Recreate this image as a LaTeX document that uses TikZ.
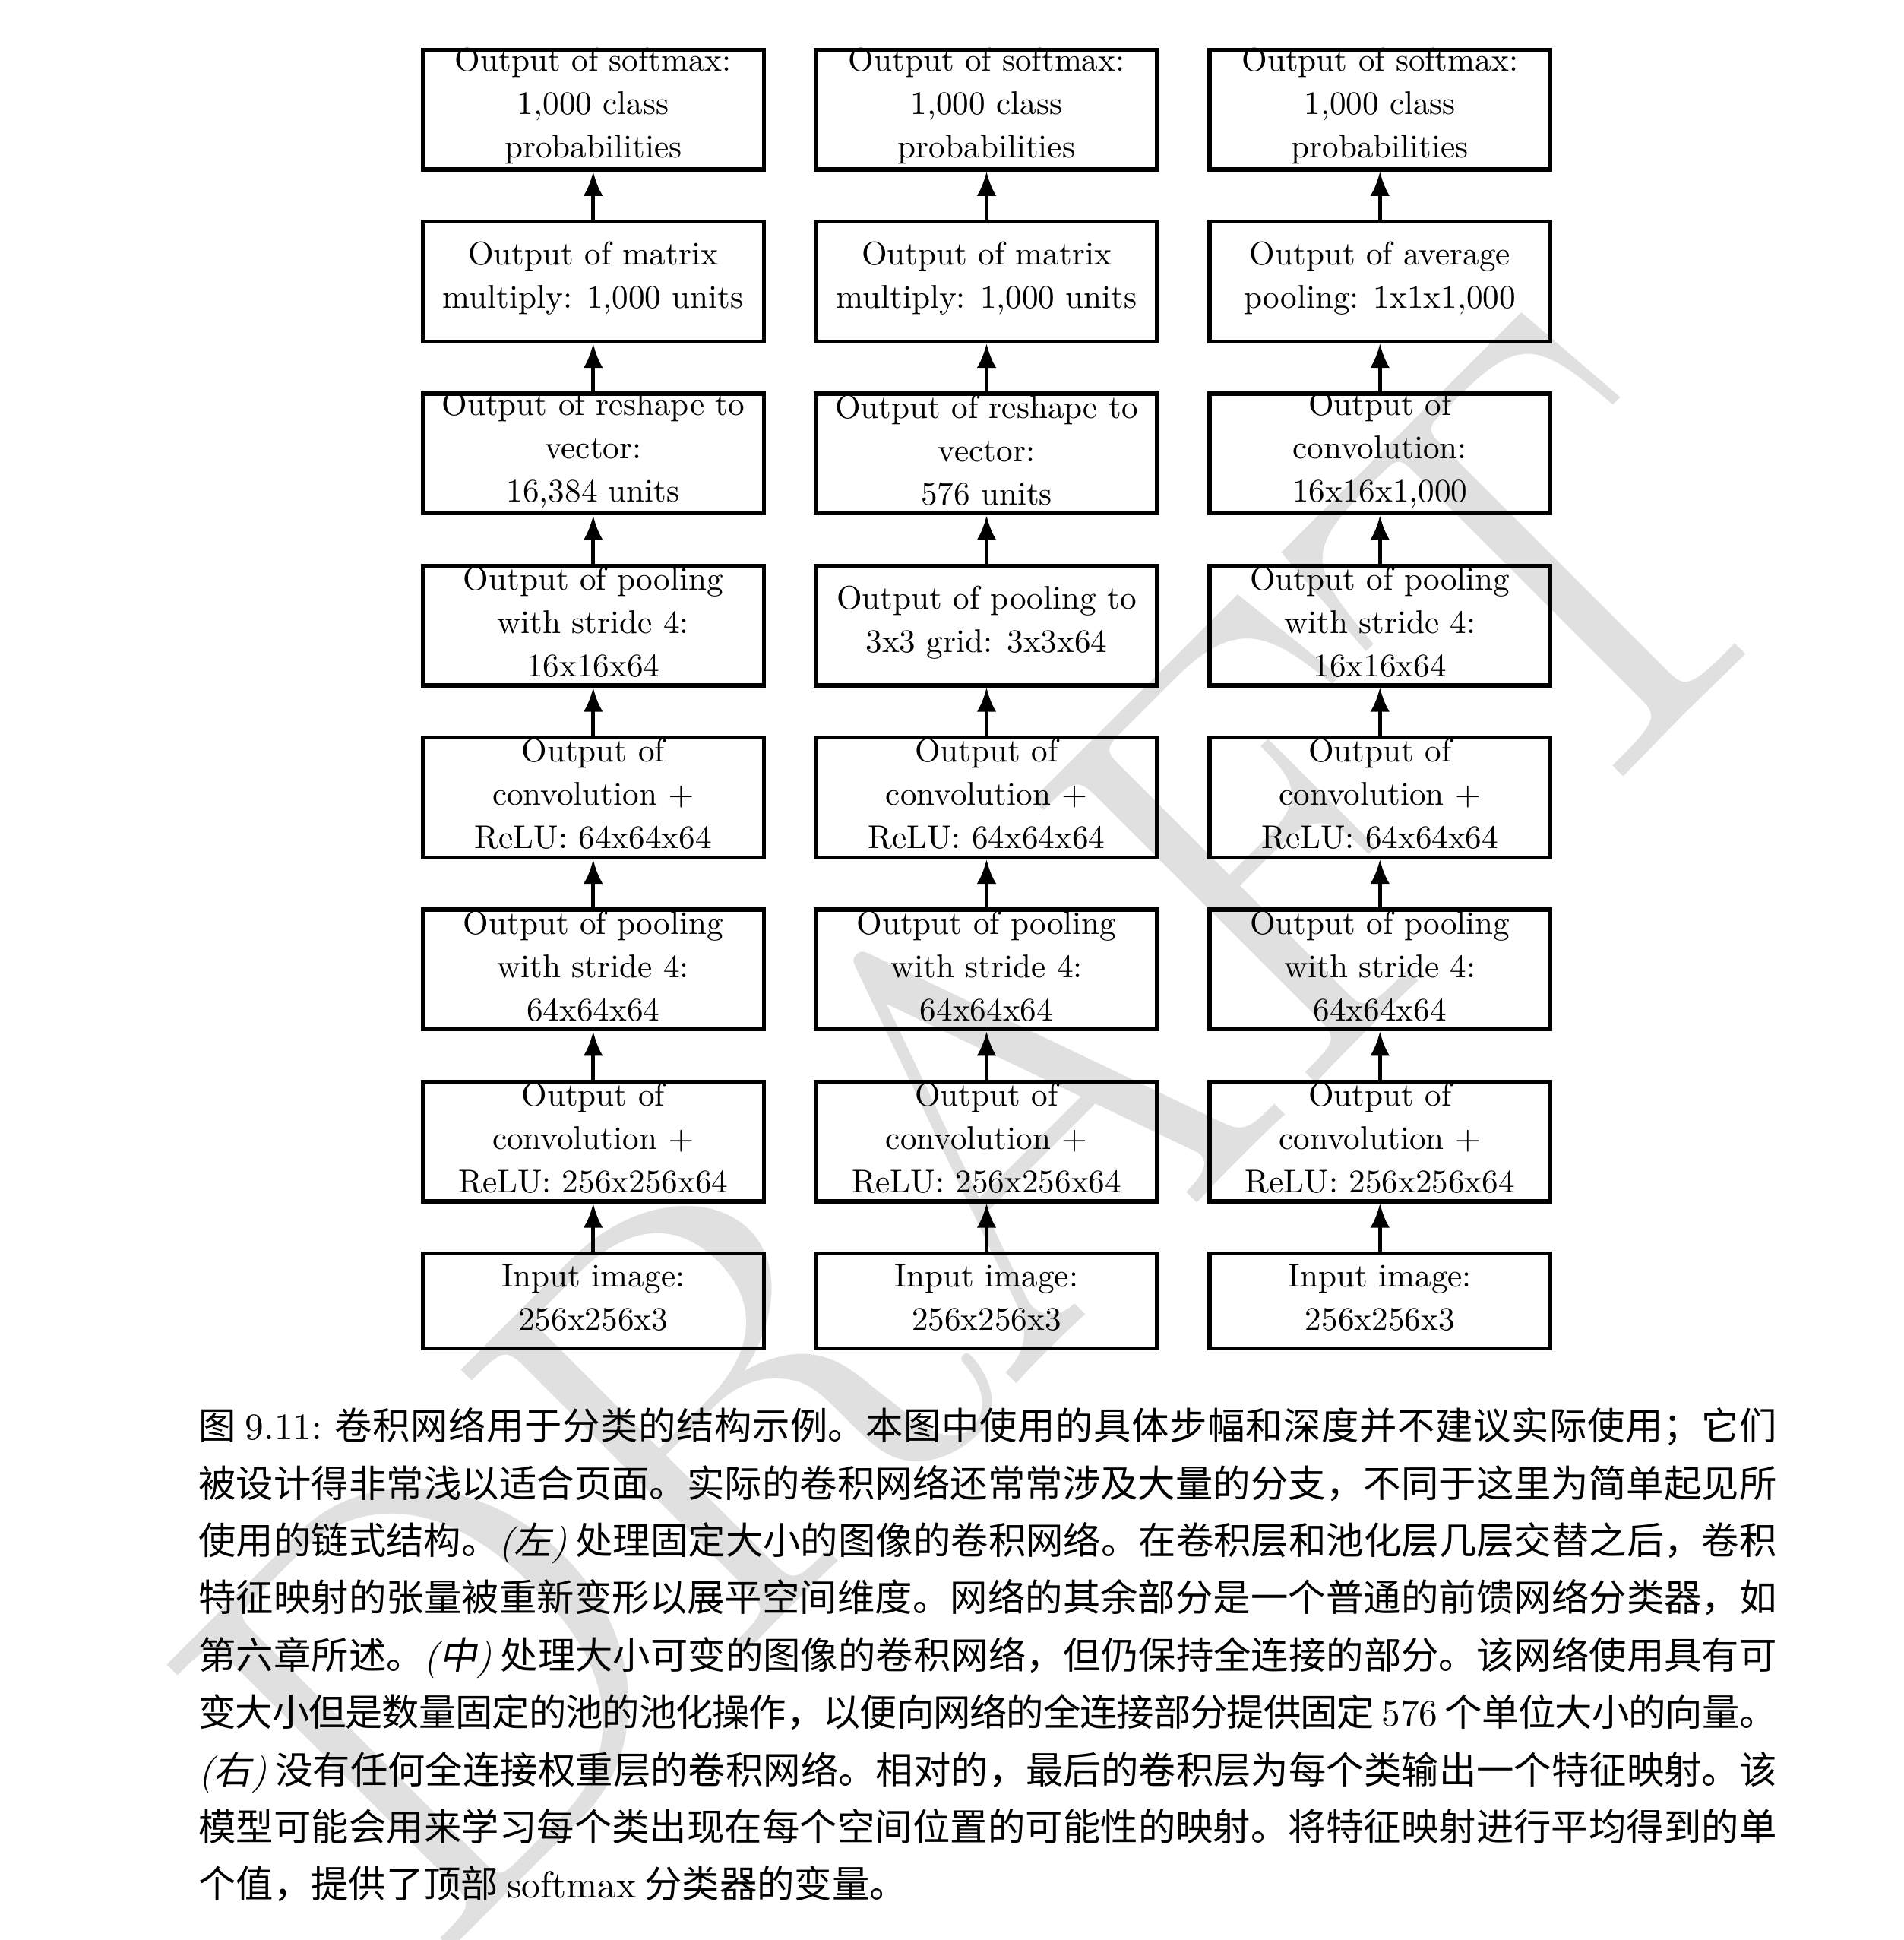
\documentclass[tikz,border=0pt]{standalone}
\usepackage{fontspec}
\usepackage{tikz}
\usetikzlibrary{arrows.meta, positioning}
\newfontfamily\cjk{Noto Sans CJK SC}
\newfontfamily\cjkslant{Noto Sans CJK SC}[FakeSlant=0.2]
\newfontfamily\draftfont{lmroman17-regular.otf}
\definecolor{draftgray}{gray}{0.88}
\XeTeXlinebreaklocale "zh"
\XeTeXlinebreakskip=0pt plus 1pt minus 0.5pt

\begin{document}
\begin{tikzpicture}[node distance=12.84pt, auto,
        block/.style={rectangle, draw, line width=1.1pt, minimum width=91pt, minimum height=31.93pt, inner sep=0pt},
        inblock/.style={block, minimum height=25.3pt},
        txt/.style={align=center, inner sep=0pt, font=\fontsize{10}{13.2}\selectfont, scale=0.875, yshift=1pt},
        line/.style={draw, line width=1pt, -{Latex[length=6.5pt, width=5.2pt]}}]
        \useasboundingbox (0,0) rectangle (507.87pt,-517.44pt);

        \node [rotate=45, anchor=base west, inner sep=0pt, text=draftgray, font=\draftfont\fontsize{157}{157}\selectfont] (draft) at (114.5pt,-525.7pt) {DRAFT};

        % left: fixed size input
        \node [inblock, label={[txt]center:{Input image:\\256x256x3}}] (inL) at (158.24pt,-347pt) {};
        \node [block, above=of inL, label={[txt]center:{Output of\\convolution $+$\\ReLU: 256x256x64}}] (cvLa) {};
        \node [block, above=of cvLa, label={[txt]center:{Output of pooling\\with stride 4:\\64x64x64}}] (plLa) {};
        \node [block, above=of plLa, label={[txt]center:{Output of\\convolution $+$\\ReLU: 64x64x64}}] (cvLb) {};
        \node [block, above=of cvLb, label={[txt]center:{Output of pooling\\with stride 4:\\16x16x64}}] (plLb) {};
        \node [block, above=of plLb, label={[txt]center:{Output of reshape to\\vector:\\16,384 units}}] (rsL) {};
        \node [block, above=of rsL, label={[txt]center:{Output of matrix\\multiply: 1,000 units}}] (mmL) {};
        \node [block, above=of mmL, label={[txt]center:{Output of softmax:\\1,000 class\\probabilities}}] (smL) {};

        % middle: variable size input
        \node [inblock, right=of inL, label={[txt]center:{Input image:\\256x256x3}}] (inM) {};
        \node [block, above=of inM, label={[txt]center:{Output of\\convolution $+$\\ReLU: 256x256x64}}] (cvMa) {};
        \node [block, above=of cvMa, label={[txt]center:{Output of pooling\\with stride 4:\\64x64x64}}] (plMa) {};
        \node [block, above=of plMa, label={[txt]center:{Output of\\convolution $+$\\ReLU: 64x64x64}}] (cvMb) {};
        \node [block, above=of cvMb, label={[txt]center:{Output of pooling to\\3x3 grid: 3x3x64}}] (plMb) {};
        \node [block, above=of plMb, label={[txt]center:{Output of reshape to\\vector:\\576 units}}] (rsM) {};
        \node [block, above=of rsM, label={[txt]center:{Output of matrix\\multiply: 1,000 units}}] (mmM) {};
        \node [block, above=of mmM, label={[txt]center:{Output of softmax:\\1,000 class\\probabilities}}] (smM) {};

        % right: fully convolutional
        \node [inblock, right=of inM, label={[txt]center:{Input image:\\256x256x3}}] (inR) {};
        \node [block, above=of inR, label={[txt]center:{Output of\\convolution $+$\\ReLU: 256x256x64}}] (cvRa) {};
        \node [block, above=of cvRa, label={[txt]center:{Output of pooling\\with stride 4:\\64x64x64}}] (plRa) {};
        \node [block, above=of plRa, label={[txt]center:{Output of\\convolution $+$\\ReLU: 64x64x64}}] (cvRb) {};
        \node [block, above=of cvRb, label={[txt]center:{Output of pooling\\with stride 4:\\16x16x64}}] (plRb) {};
        \node [block, above=of plRb, label={[txt]center:{Output of\\convolution:\\16x16x1,000}}] (cvRc) {};
        \node [block, above=of cvRc, label={[txt]center:{Output of average\\pooling: 1x1x1,000}}] (avR) {};
        \node [block, above=of avR, label={[txt]center:{Output of softmax:\\1,000 class\\probabilities}}] (smR) {};

        \path [line] (inL) -- (cvLa);
        \path [line] (cvLa) -- (plLa);
        \path [line] (plLa) -- (cvLb);
        \path [line] (cvLb) -- (plLb);
        \path [line] (plLb) -- (rsL);
        \path [line] (rsL) -- (mmL);
        \path [line] (mmL) -- (smL);

        \path [line] (inM) -- (cvMa);
        \path [line] (cvMa) -- (plMa);
        \path [line] (plMa) -- (cvMb);
        \path [line] (cvMb) -- (plMb);
        \path [line] (plMb) -- (rsM);
        \path [line] (rsM) -- (mmM);
        \path [line] (mmM) -- (smM);

        \path [line] (inR) -- (cvRa);
        \path [line] (cvRa) -- (plRa);
        \path [line] (plRa) -- (cvRb);
        \path [line] (cvRb) -- (plRb);
        \path [line] (plRb) -- (cvRc);
        \path [line] (cvRc) -- (avR);
        \path [line] (avR) -- (smR);

        % caption
        \node [anchor=north west, inner sep=0pt, text width=421pt, align=justify, font=\cjk\fontsize{10}{15.28}\selectfont] (caption) at (52.8pt,-375.3pt) {%
图 {\rmfamily 9.11:} 卷积网络用于分类的结构示例。本图中使用的具体步幅和深度并不建议实际使用；它们\linebreak
被设计得非常浅以适合页面。实际的卷积网络还常常涉及大量的分支，不同于这里为简单起见所\linebreak
使用的链式结构。{\rmfamily\itshape (}{\cjkslant 左}{\rmfamily\itshape )} 处理固定大小的图像的卷积网络。在卷积层和池化层几层交替之后，卷积\linebreak
特征映射的张量被重新变形以展平空间维度。网络的其余部分是一个普通的前馈网络分类器，如\linebreak
第六章所述。{\rmfamily\itshape (}{\cjkslant 中}{\rmfamily\itshape )} 处理大小可变的图像的卷积网络，但仍保持全连接的部分。该网络使用具有可\linebreak
变大小但是数量固定的池的池化操作，以便向网络的全连接部分提供固定 {\rmfamily 576} 个单位大小的向量。\linebreak
{\rmfamily\itshape (}{\cjkslant 右}{\rmfamily\itshape )} 没有任何全连接权重层的卷积网络。相对的，最后的卷积层为每个类输出一个特征映射。该\linebreak
模型可能会用来学习每个类出现在每个空间位置的可能性的映射。将特征映射进行平均得到的单\linebreak
个值，提供了顶部 {\rmfamily softmax} 分类器的变量。};
\end{tikzpicture}
\end{document}
